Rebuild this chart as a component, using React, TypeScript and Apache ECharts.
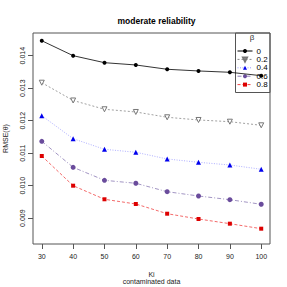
import React, { useEffect, useRef } from "react";
import * as echarts from "echarts";

const kiValues = [30, 40, 50, 60, 70, 80, 90, 100];
const betaLabels = ["0", "0.2", "0.4", "0.6", "0.8"];
const beta0 = [0.01446, 0.0140, 0.013785, 0.013714, 0.013582, 0.01353, 0.013489, 0.013385];
const beta02 = [0.013169, 0.012622, 0.012351, 0.012268, 0.012105, 0.012022, 0.011969, 0.011858];
const beta04 = [0.012154, 0.011446, 0.01112, 0.011028, 0.010822, 0.01072, 0.010637, 0.010505];
const beta06 = [0.011366, 0.010566, 0.010166, 0.010074, 0.009815, 0.009683, 0.009569, 0.009428];
const beta08 = [0.010914, 0.0100, 0.009582, 0.009437, 0.009138, 0.008975, 0.008831, 0.008677];
const yTicks = [0.009, 0.010, 0.011, 0.012, 0.013, 0.014];
const xTicks = [30, 40, 50, 60, 70, 80, 90, 100];

const FONT = "Liberation Sans, Arial, sans-serif";

export default function App() {
  const ref = useRef<HTMLDivElement>(null);
  useEffect(() => {
    const chart = echarts.init(ref.current!, null, { renderer: "svg" });
    const mk = (vals: number[]) => kiValues.map((k, i) => [k, vals[i]]);
    const styles = [
      { data: beta0, color: "#000000", line: "#000000", type: "solid" as any, symbol: "circle", size: 4, fill: "#000000" },
      { data: beta02, color: "#777777", line: "#888888", type: [2, 2], symbol: "path://M0,0 L10,0 L5,9 Z", size: 5, fill: "#ffffff" },
      { data: beta04, color: "#0000ee", line: "#9a9aff", type: [1, 1.5], symbol: "triangle", size: 5, fill: "#0000ee" },
      { data: beta06, color: "#6a4c9c", line: "#8a7ab4", type: [4, 2, 1, 2], symbol: "circle", size: 5, fill: "#6a4c9c" },
      { data: beta08, color: "#dd0000", line: "#f04444", type: [3, 2], symbol: "rect", size: 4, fill: "#dd0000" },
    ];
    chart.setOption({
      animation: false,
      textStyle: { fontFamily: FONT },
      title: {
        text: "moderate reliability",
        left: 151.5,
        textAlign: "center",
        top: 11,
        textStyle: { fontSize: 8.5, fontWeight: "bold", color: "#000", fontFamily: FONT },
      },
      grid: { left: 33, right: 17, top: 33, bottom: 43, show: true, borderColor: "#555", borderWidth: 1, backgroundColor: "transparent" },
      legend: {
        orient: "vertical",
        left: 237,
        top: 47,
        itemWidth: 15,
        itemHeight: 5,
        itemGap: 0.4,
        padding: 0,
        data: betaLabels,
        lineStyle: { width: 1 },
        textStyle: { fontSize: 8, lineHeight: 8, height: 8, color: "#000", fontFamily: FONT, padding: [0, 0, 0, -1] },
      },
      xAxis: {
        type: "value",
        min: 27.2,
        max: 102.8,
        axisLine: { show: false },
        splitLine: { show: false },
        axisTick: { show: true, inside: false, length: 5, customValues: xTicks, lineStyle: { color: "#555" } },
        axisLabel: { customValues: xTicks, fontSize: 7, color: "#222", margin: 9, fontFamily: FONT },
      },
      yAxis: {
        type: "value",
        min: 0.008206,
        max: 0.014698,
        axisLine: { show: false },
        splitLine: { show: false },
        axisTick: { show: true, inside: false, length: 5, customValues: yTicks, lineStyle: { color: "#555" } },
        axisLabel: {
          customValues: yTicks,
          rotate: 90,
          fontSize: 7,
          color: "#222",
          margin: 7,
          fontFamily: FONT,
          formatter: (v: number) => v.toFixed(3),
        },
      },
      graphic: [
        { type: "rect", shape: { x: 235.5, y: 33, width: 34.5, height: 59.5 }, style: { fill: "none", stroke: "#555", lineWidth: 1 }, silent: true },
        { type: "text", x: 252, y: 37, style: { text: "β", font: `8px ${FONT}`, fill: "#333", textAlign: "center", textVerticalAlign: "middle" } },
        { type: "text", x: 5, y: 138.5, rotation: Math.PI / 2, style: { text: "RMSE(θ)", font: `7px ${FONT}`, fill: "#222", textAlign: "center", textVerticalAlign: "middle" } },
        { type: "text", x: 151.5, y: 274, style: { text: "Ki", font: `7px ${FONT}`, fill: "#222", textAlign: "center", textVerticalAlign: "middle" } },
        { type: "text", x: 151.5, y: 281, style: { text: "contaminated data", font: `7px ${FONT}`, fill: "#222", textAlign: "center", textVerticalAlign: "middle" } },
      ],
      series: styles.map((s, i) => ({
        name: betaLabels[i],
        type: "line",
        data: mk(s.data),
        symbol: s.symbol,
        symbolSize: s.size,
        showSymbol: true,
        itemStyle: { color: s.fill, borderColor: s.color, borderWidth: i === 1 ? 1 : 0 },
        lineStyle: { color: s.line, width: 0.8, type: s.type },
        color: s.color,
        z: 5 - i,
      })),
    });
    return () => chart.dispose();
  }, []);
  return <div ref={ref} style={{ width: 287, height: 287, position: "absolute", left: 0, top: 0 }} />;
}
